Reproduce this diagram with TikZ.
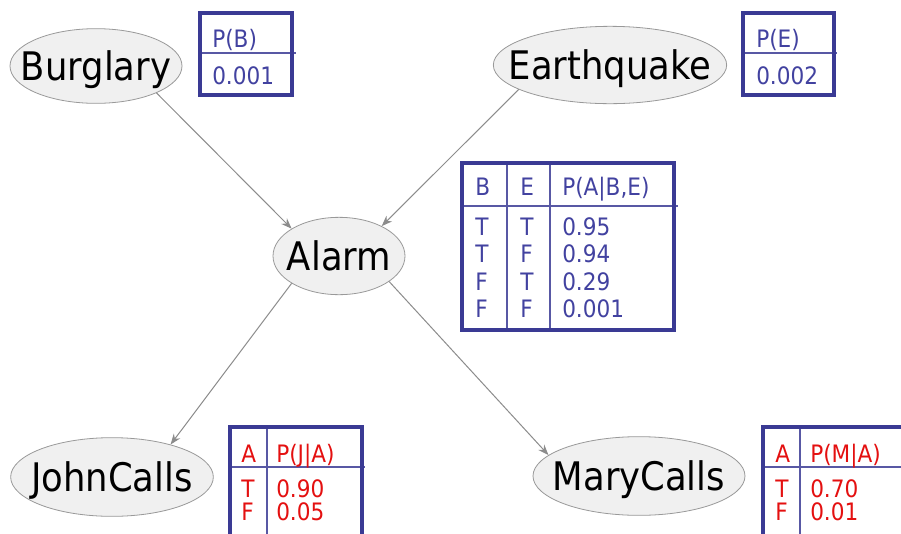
\documentclass[tikz,border=0pt]{standalone}
\usepackage{fontspec}
\setmainfont{DejaVu Sans Condensed}
\usetikzlibrary{arrows.meta,shapes.geometric}
\definecolor{cptframe}{RGB}{58,58,148}
\definecolor{cptblue}{RGB}{66,66,160}
\definecolor{cptred}{RGB}{228,16,16}
\definecolor{varfill}{RGB}{240,240,240}

\begin{document}
\begin{tikzpicture}[
      x=0.75pt,y=-0.75pt,
      var/.style={ellipse, draw=gray!80, fill=varfill, line width=0.6pt, inner sep=0pt},
      varname/.style={inner sep=0pt, text height=21.5pt, text depth=0pt, font=\fontsize{29.5}{29.5}\selectfont},
      link/.style={draw=gray!90, line width=0.75pt, -{Stealth[length=8pt,width=6pt]}},
      frame/.style={draw=cptframe, line width=2.3pt},
      rule/.style={draw=cptframe!85, line width=1.2pt},
      cell/.style={anchor=base west, inner sep=0pt, font=\fontsize{18}{18}\selectfont, text=cptblue},
      redcell/.style={cell, text=cptred}
    ]
      \useasboundingbox (0,0) rectangle (901,533);
      \clip (0,0) rectangle (901,533);
      \fill[white] (0,0) rectangle (901,533);
      % variables
      \node[var, minimum width=129pt, minimum height=56pt] (burglary) at (96,66) {};
      \node[varname] (burglary-name) at (burglary.center) {Burglary};
      \node[var, minimum width=175pt, minimum height=58pt] (quake) at (610,65) {};
      \node[varname] (quake-name) at (quake.center) {Earthquake};
      \node[var, minimum width=99pt, minimum height=58pt] (alarm) at (339,256) {};
      \node[varname] (alarm-name) at (alarm.center) {Alarm};
      \node[var, minimum width=152pt, minimum height=59pt] (john) at (112,477) {};
      \node[varname] (john-name) at (john.center) {JohnCalls};
      \node[var, minimum width=159pt, minimum height=59pt] (mary) at (639,476) {};
      \node[varname] (mary-name) at (mary.center) {MaryCalls};
      % links
      \draw[link] (burglary.-24) -- (alarm.150);
      \draw[link] (quake.-165) -- (alarm.35);
      \draw[link] (alarm.-150) -- (john.29);
      \draw[link] (alarm.-27) -- (mary.167);
      % P(B)
      \draw[rule] (200,53) -- (296,53);
      \draw[frame] (200,13) rectangle (292,95);
      \node[cell] (pb-head) at (212,47) {P(B)};
      \node[cell] (pb-val) at (212,84) {0.001};
      % P(E)
      \draw[rule] (743,53) -- (837,53);
      \draw[frame] (743,13) rectangle (834,95);
      \node[cell] (pe-head) at (756,47) {P(E)};
      \node[cell] (pe-val) at (756,84) {0.002};
      % P(A|B,E)
      \draw[rule] (462,206) -- (678,206);
      \draw[rule] (507,163) -- (507,330);
      \draw[rule] (550,163) -- (550,330);
      \draw[frame] (462,163) rectangle (674,330);
      \node[cell] (pa-b) at (475,195) {B};
      \node[cell] (pa-e) at (520,195) {E};
      \node[cell] (pa-p) at (562,195) {P(A|B,E)};
      \node[cell] (pa-b1) at (475,235) {T};
      \node[cell] (pa-e1) at (520,235) {T};
      \node[cell] (pa-p1) at (562,235) {0.95};
      \node[cell] (pa-b2) at (475,262) {T};
      \node[cell] (pa-e2) at (520,262) {F};
      \node[cell] (pa-p2) at (562,262) {0.94};
      \node[cell] (pa-b3) at (475,290) {F};
      \node[cell] (pa-e3) at (520,290) {T};
      \node[cell] (pa-p3) at (562,290) {0.29};
      \node[cell] (pa-b4) at (475,317) {F};
      \node[cell] (pa-e4) at (520,317) {F};
      \node[cell] (pa-p4) at (562,317) {0.001};
      % P(J|A)
      \draw[rule] (230,467) -- (365,467);
      \draw[rule] (267,427) -- (267,545);
      \draw[frame] (230,427) rectangle (362,545);
      \node[redcell] (pj-a) at (241,462) {A};
      \node[redcell] (pj-p) at (276,462) {P(J|A)};
      \node[redcell] (pj-a1) at (241,497) {T};
      \node[redcell] (pj-p1) at (276,497) {0.90};
      \node[redcell] (pj-a2) at (241,520) {F};
      \node[redcell] (pj-p2) at (276,520) {0.05};
      % P(M|A)
      \draw[rule] (763,467) -- (920,467);
      \draw[rule] (800,427) -- (800,545);
      \draw[frame] (763,427) rectangle (920,545);
      \node[redcell] (pm-a) at (775,462) {A};
      \node[redcell] (pm-p) at (810,462) {P(M|A)};
      \node[redcell] (pm-a1) at (775,497) {T};
      \node[redcell] (pm-p1) at (810,497) {0.70};
      \node[redcell] (pm-a2) at (775,520) {F};
      \node[redcell] (pm-p2) at (810,520) {0.01};
    \end{tikzpicture}
\end{document}
